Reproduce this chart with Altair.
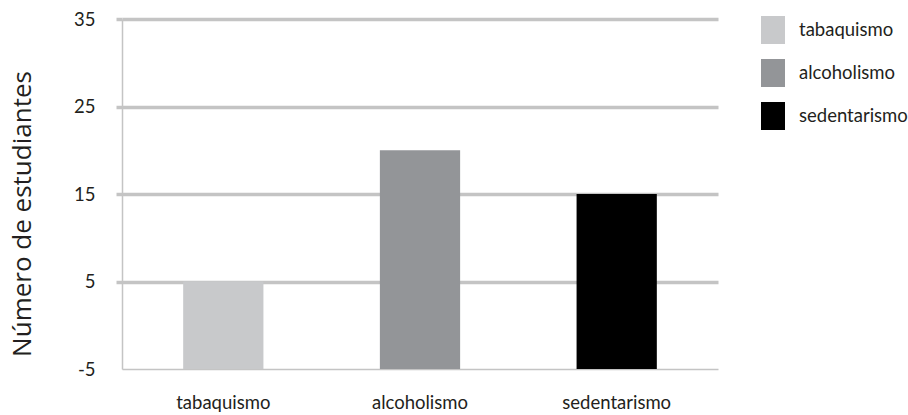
import altair as alt
import pandas as pd

categories = ["tabaquismo", "alcoholismo", "sedentarismo"]
values = [5, 20, 15]
colors = ["#c8c9cb", "#939598", "#000000"]
y_ticks = [-5, 5, 15, 25, 35]

df = pd.DataFrame({"cat": categories, "val": values})

grid_c = "#c4c4c4"
text_c = "#231f20"
lab_font = "Lato"
lab_size = 18.5

bars = alt.Chart(df).mark_bar().encode(
    x=alt.X(
        "cat:N",
        sort=categories,
        scale=alt.Scale(paddingInner=0.592, paddingOuter=0.311),
        axis=alt.Axis(
            title=None, labelAngle=0, ticks=False, domainColor=grid_c,
            domainWidth=1.5, labelFont=lab_font, labelFontSize=lab_size,
            labelColor=text_c, labelPadding=39, labelBaseline="alphabetic",
        ),
    ),
    y=alt.Y(
        "val:Q",
        scale=alt.Scale(domain=[-5, 35], nice=False, zero=False),
        axis=alt.Axis(
            values=y_ticks, title="Número de estudiantes", grid=True,
            gridColor=grid_c,
            gridWidth={"condition": {"test": "datum.value == -5", "value": 0}, "value": 3.5},
            tickSize=6,
            tickWidth={"condition": {"test": "datum.value == -5", "value": 0}, "value": 3.5},
            tickColor=grid_c, domainColor=grid_c, domainWidth=1.5,
            labelExpr="'' + datum.value",
            labelFont=lab_font, labelFontSize=lab_size, labelColor=text_c,
            labelPadding=21,
            titleFont="Open Sans", titleFontSize=26, titleFontWeight="normal",
            titleColor=text_c, titleX=-92, titleY=194.5, titleAngle=270,
            titleAlign="center", titleBaseline="alphabetic",
        ),
    ),
    y2=alt.datum(-5),
    color=alt.Color(
        "cat:N",
        sort=categories,
        scale=alt.Scale(domain=categories, range=colors),
        legend=alt.Legend(
            title=None, orient="none", legendX=637, legendY=-3,
            symbolType="M-0.857,-1H0.857V1H-0.857Z", symbolSize=784,
            symbolStrokeWidth=0, symbolOpacity=1, labelOffset=12,
            labelFont=lab_font, labelFontSize=lab_size, labelColor=text_c,
            rowPadding=15, padding=0, labelLimit=200,
        ),
    ),
).properties(
    width=596, height=350,
    autosize=alt.AutoSizeParams(type="none"),
    padding={"left": 122, "top": 19, "right": 190, "bottom": 46},
    background="white",
).configure_view(stroke=None)

bars.save("out.html", embed_options={"renderer": "svg", "actions": False})
